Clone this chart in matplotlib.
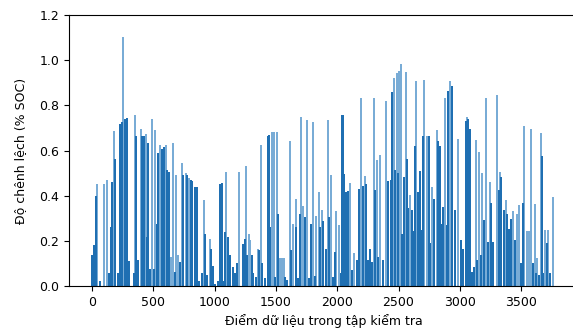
import matplotlib
matplotlib.use('Agg')
import matplotlib.pyplot as plt

# data: (index, % SOC)
dark_idx = [3, 16, 30, 65, 139, 155, 166, 188, 215, 231, 242, 272, 288, 302, 340, 362, 372, 408, 424, 446,
            460, 473, 503, 527, 541, 571, 584, 614, 628, 674, 718, 745, 778, 805, 818, 840, 854, 875, 900, 922,
            941, 971, 984, 1003, 1025, 1044, 1060, 1071, 1085, 1112, 1126, 1153, 1169, 1186, 1232, 1245, 1267,
            1302, 1316, 1335, 1362, 1387, 1414, 1433, 1441, 1449, 1493, 1515, 1574, 1591, 1623, 1667, 1683,
            1694, 1737, 1770, 1786, 1816, 1860, 1887, 1906, 1936, 1969, 1979, 2028, 2042, 2050, 2058, 2072,
            2091, 2121, 2159, 2178, 2213, 2235, 2251, 2268, 2284, 2308, 2336, 2371, 2412, 2439, 2450, 2472,
            2499, 2531, 2548, 2569, 2580, 2608, 2624, 2635, 2656, 2675, 2689, 2703, 2746, 2760, 2792, 2822,
            2839, 2852, 2866, 2893, 2907, 2934, 2961, 3010, 3026, 3051, 3067, 3083, 3100, 3116, 3138, 3170,
            3198, 3227, 3257, 3274, 3317, 3339, 3361, 3388, 3404, 3415, 3450, 3497, 3513, 3595, 3622, 3646,
            3671, 3682, 3709, 3736]
dark_val = [0.137, 0.181, 0.398, 0.02, 0.056, 0.262, 0.46, 0.563, 0.056, 0.718, 0.725, 0.74, 0.742, 0.112,
            0.059, 0.666, 0.115, 0.666, 0.662, 0.218, 0.632, 0.077, 0.077, 0.276, 0.588, 0.607, 0.614, 0.512,
            0.504, 0.063, 0.107, 0.493, 0.49, 0.468, 0.465, 0.438, 0.438, 0.02, 0.056, 0.232, 0.049, 0.166,
            0.088, 0.009, 0.02, 0.453, 0.456, 0.02, 0.24, 0.218, 0.137, 0.085, 0.056, 0.1, 0.188, 0.21, 0.137,
            0.137, 0.059, 0.04, 0.159, 0.1, 0.034, 0.663, 0.67, 0.262, 0.04, 0.32, 0.04, 0.025, 0.159, 0.262,
            0.034, 0.32, 0.306, 0.034, 0.276, 0.044, 0.262, 0.288, 0.162, 0.306, 0.04, 0.151, 0.056, 0.757,
            0.757, 0.497, 0.416, 0.42, 0.07, 0.115, 0.431, 0.445, 0.453, 0.115, 0.162, 0.107, 0.423, 0.129,
            0.115, 0.465, 0.47, 0.86, 0.512, 0.5, 0.232, 0.482, 0.563, 0.347, 0.335, 0.244, 0.622, 0.416,
            0.51, 0.247, 0.666, 0.666, 0.191, 0.387, 0.644, 0.622, 0.276, 0.35, 0.269, 0.862, 0.887, 0.338,
            0.203, 0.166, 0.732, 0.74, 0.695, 0.06, 0.085, 0.115, 0.137, 0.291, 0.196, 0.368, 0.196, 0.423,
            0.482, 0.338, 0.32, 0.254, 0.298, 0.203, 0.1, 0.368, 0.1, 0.056, 0.049, 0.575, 0.056, 0.191, 0.056]

light_idx = [43, 101, 125, 177, 256, 353, 397, 438, 489, 514, 555, 601, 644, 663, 685, 704, 737, 764, 794,
             911, 960, 1096, 1202, 1256, 1281, 1292, 1351, 1379, 1466, 1485, 1506, 1534, 1553, 1569, 1612,
             1640, 1661, 1705, 1724, 1751, 1803, 1827, 1849, 1873, 1925, 1950, 1990, 2012, 2107, 2137, 2197,
             2230, 2298, 2322, 2349, 2398, 2461, 2485, 2507, 2523, 2561, 2597, 2646, 2711, 2733, 2776, 2811,
             2879, 2920, 2983, 3059, 3130, 3154, 3184, 3214, 3246, 3301, 3328, 3377, 3431, 3464, 3480, 3524,
             3546, 3567, 3584, 3611, 3633, 3660, 3698, 3722, 3758]
light_val = [0.45, 0.45, 0.468, 0.685, 1.103, 0.759, 0.695, 0.672, 0.74, 0.69, 0.625, 0.625, 0.13, 0.634,
             0.49, 0.137, 0.545, 0.501, 0.478, 0.379, 0.206, 0.507, 0.504, 0.531, 0.232, 0.203, 0.165, 0.625,
             0.684, 0.684, 0.684, 0.126, 0.126, 0.126, 0.64, 0.276, 0.387, 0.75, 0.353, 0.735, 0.728, 0.309,
             0.416, 0.338, 0.735, 0.493, 0.331, 0.269, 0.456, 0.147, 0.832, 0.485, 0.832, 0.556, 0.578, 0.82,
             0.923, 0.945, 0.953, 0.985, 0.948, 0.401, 0.906, 0.912, 0.666, 0.438, 0.691, 0.832, 0.906, 0.651,
             0.747, 0.647, 0.593, 0.501, 0.832, 0.46, 0.847, 0.504, 0.382, 0.331, 0.32, 0.357, 0.707, 0.244,
             0.244, 0.695, 0.365, 0.123, 0.676, 0.247, 0.247, 0.394]

plt.rcParams['font.family'] = ['DejaVu Sans']
plt.rcParams['font.size'] = 9

fig = plt.figure(figsize=(5.73, 3.29), dpi=100)
ax = fig.add_axes([0.1204, 0.1307, 0.89, 0.8237])

ax.bar(light_idx, light_val, width=16, color='#79acd6', linewidth=0)
ax.bar(dark_idx, dark_val, width=16, color='#1f6fb2', linewidth=0)

ax.set_xlim(-188, 3972)
ax.set_ylim(0, 1.2)
ax.set_xticks([0, 500, 1000, 1500, 2000, 2500, 3000, 3500])
ax.set_yticks([0.0, 0.2, 0.4, 0.6, 0.8, 1.0, 1.2])
ax.set_xlabel('Điểm dữ liệu trong tập kiểm tra')
ax.set_ylabel('Độ chênh lệch (% SOC)', labelpad=9)

fig.savefig('out.png', dpi=100)
